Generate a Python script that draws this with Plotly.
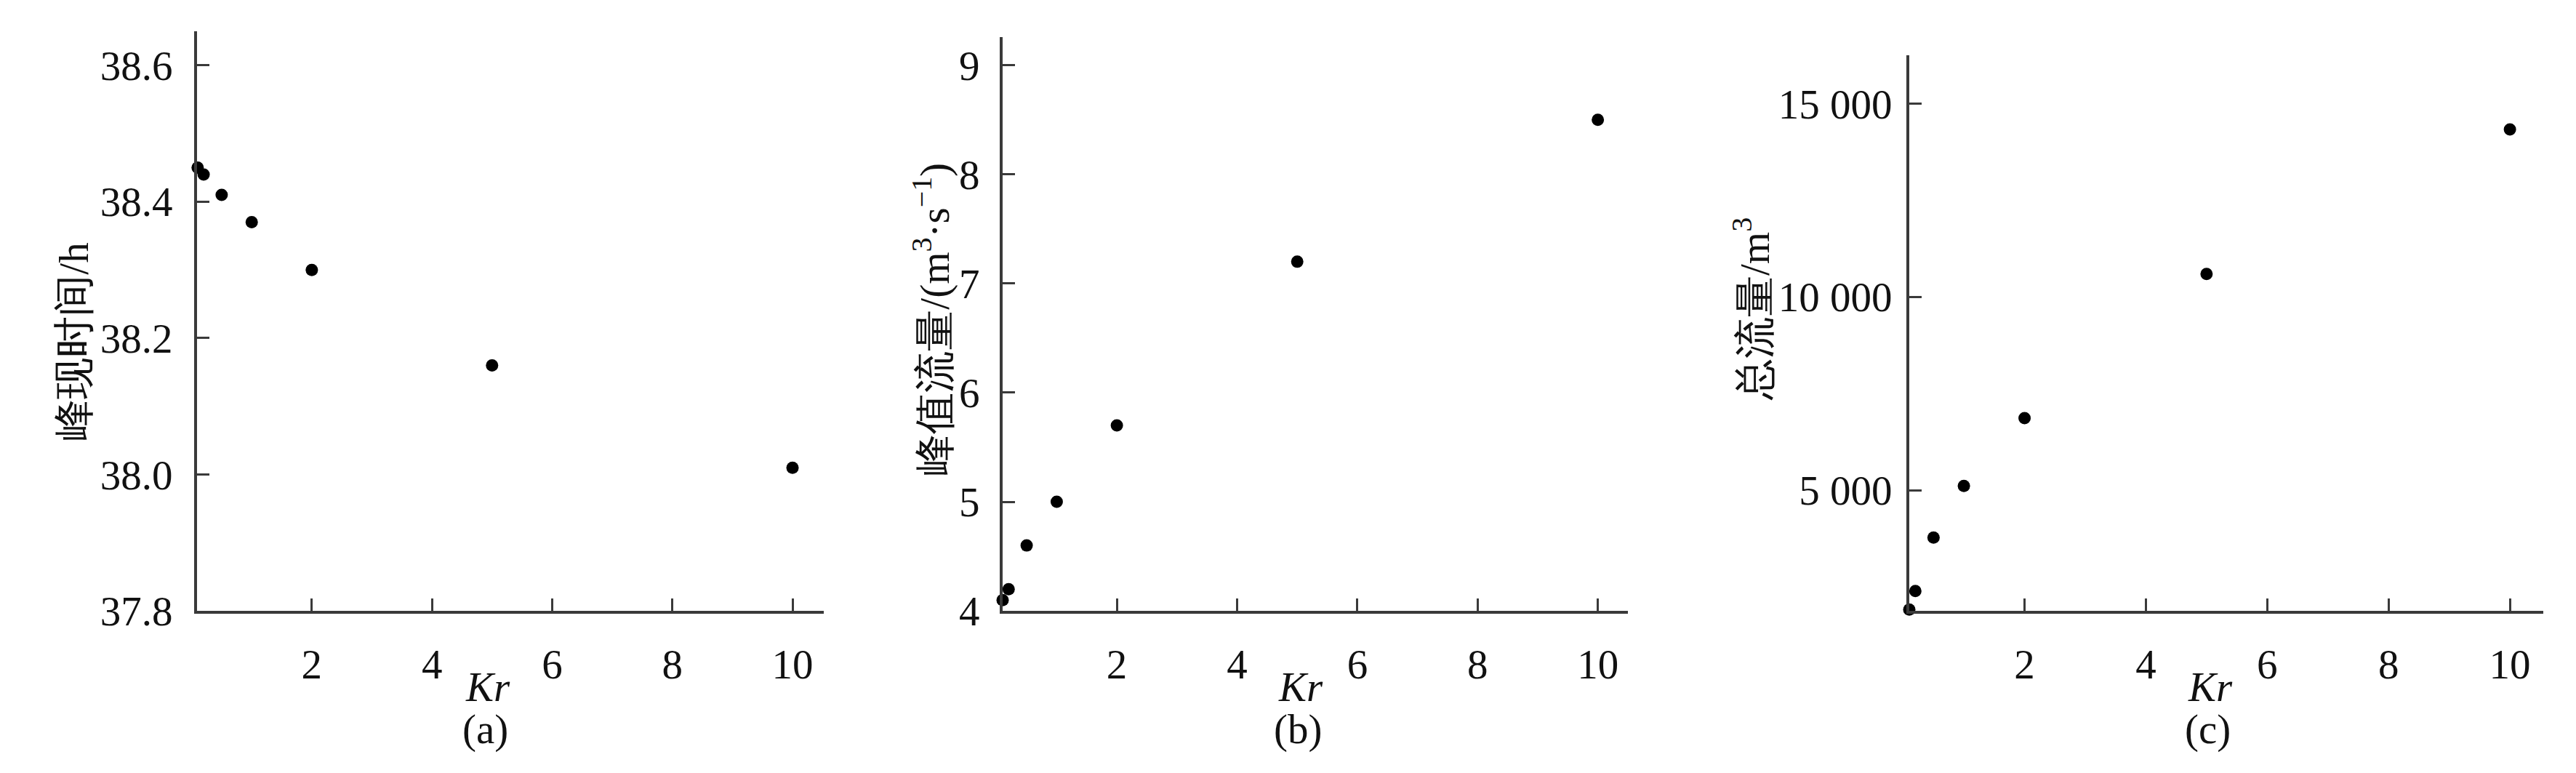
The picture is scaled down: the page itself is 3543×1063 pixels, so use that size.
import plotly.graph_objects as go

# ---- data ----
kr = [0.1, 0.2, 0.5, 1, 2, 5, 10]
peak_time = [38.45, 38.44, 38.41, 38.37, 38.30, 38.16, 38.01]
peak_flow = [4.1, 4.2, 4.6, 5.0, 5.7, 7.2, 8.5]
total_flow = [1910, 2390, 3775, 5110, 6865, 10595, 14340]

x_ticks = [2, 4, 6, 8, 10]
a_ticks = [37.8, 38.0, 38.2, 38.4, 38.6]
a_ticktext = ["37.8", "38.0", "38.2", "38.4", "38.6"]
b_ticks = [4, 5, 6, 7, 8, 9]
b_ticktext = ["4", "5", "6", "7", "8", "9"]
c_ticks = [5000, 10000, 15000]
c_ticktext = ["5 000", "10 000", "15 000"]

y_titles = ["峰现时间/h", "峰值流量/(m<sup>3</sup>·s<sup>−1</sup>)", "总流量/m<sup>3</sup>"]
panel_labels = ["(a)", "(b)", "(c)"]

W, H = 3543, 1063
FONT = "Liberation Serif, serif"
AX_COLOR = "#3a3a3a"
TXT = "#111111"
FS = 57

fig = go.Figure()
series = [peak_time, peak_flow, total_flow]
for i, ys in enumerate(series):
    fig.add_trace(go.Scatter(
        x=kr, y=ys, mode="markers",
        marker=dict(color="#000000", size=17),
        xaxis="x" if i == 0 else f"x{i+1}",
        yaxis="y" if i == 0 else f"y{i+1}",
        showlegend=False, cliponaxis=False,
    ))

def px_x(p):
    return p / W

def px_y(p):
    return 1 - p / H

# panel geometry in pixels: (left, right, top, bottom)
geo = [(263, 1125, 36, 858), (1371, 2231, 44, 858), (2618, 3490, 70, 858)]
xranges = [[0.09, 10.52], [0.1, 10.5], [0.1, 10.55]]
yranges = [[37.8, 38.65], [4.0, 9.26], [1874, 16260]]
yticks = [(a_ticks, a_ticktext), (b_ticks, b_ticktext), (c_ticks, c_ticktext)]
y_standoff = [18, 16, 8]

common_axis = dict(
    showline=True, linecolor=AX_COLOR, linewidth=4, mirror=False,
    showgrid=False, zeroline=False,
    ticks="inside", ticklen=17, tickwidth=3, tickcolor=AX_COLOR,
    tickfont=dict(family=FONT, size=FS, color=TXT),
)

layout = dict(
    width=W, height=H,
    margin=dict(l=0, r=0, t=0, b=0),
    paper_bgcolor="white", plot_bgcolor="white",
    font=dict(family=FONT, color=TXT),
)

for i, (l, r, t, b) in enumerate(geo):
    xs = "" if i == 0 else str(i + 1)
    layout[f"xaxis{xs}"] = dict(
        common_axis,
        domain=[px_x(l), px_x(r)], range=xranges[i],
        tickvals=x_ticks, ticktext=[str(v) for v in x_ticks],
        anchor=f"y{xs}", ticklabelstandoff=20,
    )
    layout[f"yaxis{xs}"] = dict(
        common_axis,
        domain=[px_y(b), px_y(t)], range=yranges[i],
        tickvals=yticks[i][0], ticktext=yticks[i][1],
        anchor=f"x{xs}", ticklabelstandoff=y_standoff[i],
    )

fig.update_layout(**layout)

# x titles and panel labels
kr_x = [663, 1781, 3032]
for i in range(3):
    fig.add_annotation(
        x=px_x(kr_x[i]), y=px_y(966), xref="paper", yref="paper",
        text="<i>Kr</i>", showarrow=False, xanchor="center", yanchor="middle",
        font=dict(family=FONT, size=FS, color=TXT),
    )
    fig.add_annotation(
        x=px_x(kr_x[i] - 4), y=px_y(1026), xref="paper", yref="paper",
        text=panel_labels[i], showarrow=False, xanchor="center", yanchor="middle",
        font=dict(family=FONT, size=FS, color=TXT),
    )

# y titles
ytitle_pos = [(94, 476), (1274, 444), (2401, 430)]
for i, (cx, cy) in enumerate(ytitle_pos):
    fig.add_annotation(
        x=px_x(cx), y=px_y(cy), xref="paper", yref="paper",
        text=y_titles[i], showarrow=False, textangle=-90,
        xanchor="center", yanchor="middle",
        font=dict(family=FONT, size=FS, color=TXT),
    )

fig.write_html("out.html")
